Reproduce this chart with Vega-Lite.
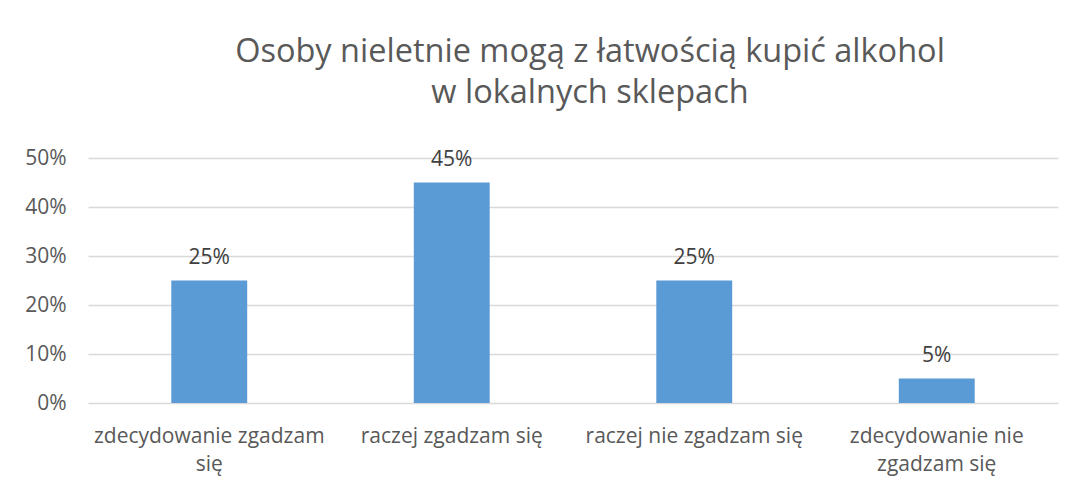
{
  "$schema": "https://vega.github.io/schema/vega-lite/v6.json",
  "width": 970,
  "height": 245,
  "autosize": {"type": "none"},
  "padding": {"left": 88, "top": 158, "right": 14, "bottom": 83},
  "background": "white",
  "title": {
    "text": ["Osoby nieletnie mogą z łatwością kupić alkohol", "w lokalnych sklepach"],
    "font": "Open Sans",
    "fontSize": 32.5,
    "fontWeight": "normal",
    "color": "#595959",
    "lineHeight": 41,
    "anchor": "middle",
    "dx": 17,
    "offset": 38
  },
  "data": {
    "values": [
      {"kategoria": "zdecydowanie zgadzam się", "udzial": 0.25},
      {"kategoria": "raczej zgadzam się", "udzial": 0.45},
      {"kategoria": "raczej nie zgadzam się", "udzial": 0.25},
      {"kategoria": "zdecydowanie nie zgadzam się", "udzial": 0.05}
    ]
  },
  "encoding": {
    "x": {
      "field": "kategoria",
      "type": "nominal",
      "sort": null,
      "scale": {"paddingInner": 0.687, "paddingOuter": 0.3435},
      "axis": {
        "title": null,
        "labelAngle": 0,
        "domain": false,
        "ticks": false,
        "labelFont": "Open Sans",
        "labelFontSize": 21,
        "labelColor": "#595959",
        "labelPadding": 22,
        "labelLineHeight": 28,
        "labelLimit": 400,
        "labelExpr": "datum.value == 'zdecydowanie zgadzam się' ? ['zdecydowanie zgadzam', 'się'] : datum.value == 'zdecydowanie nie zgadzam się' ? ['zdecydowanie nie', 'zgadzam się'] : datum.value"
      }
    },
    "y": {
      "field": "udzial",
      "type": "quantitative",
      "scale": {"domain": [0, 0.5]},
      "axis": {
        "title": null,
        "format": ".0%",
        "values": [0, 0.1, 0.2, 0.3, 0.4, 0.5],
        "labelOverlap": false,
        "domain": false,
        "ticks": false,
        "labelFont": "Open Sans",
        "labelFontSize": 21,
        "labelColor": "#595959",
        "labelPadding": 22,
        "gridColor": "#d9d9d9",
        "gridWidth": 1.5
      }
    }
  },
  "layer": [
    {"mark": {"type": "bar", "color": "#5B9BD5"}},
    {
      "mark": {"type": "text", "font": "Open Sans", "fontSize": 21, "color": "#404040", "baseline": "alphabetic", "dy": -17},
      "encoding": {"text": {"field": "udzial", "type": "quantitative", "format": ".0%"}}
    }
  ],
  "config": {"view": {"stroke": null}}
}
